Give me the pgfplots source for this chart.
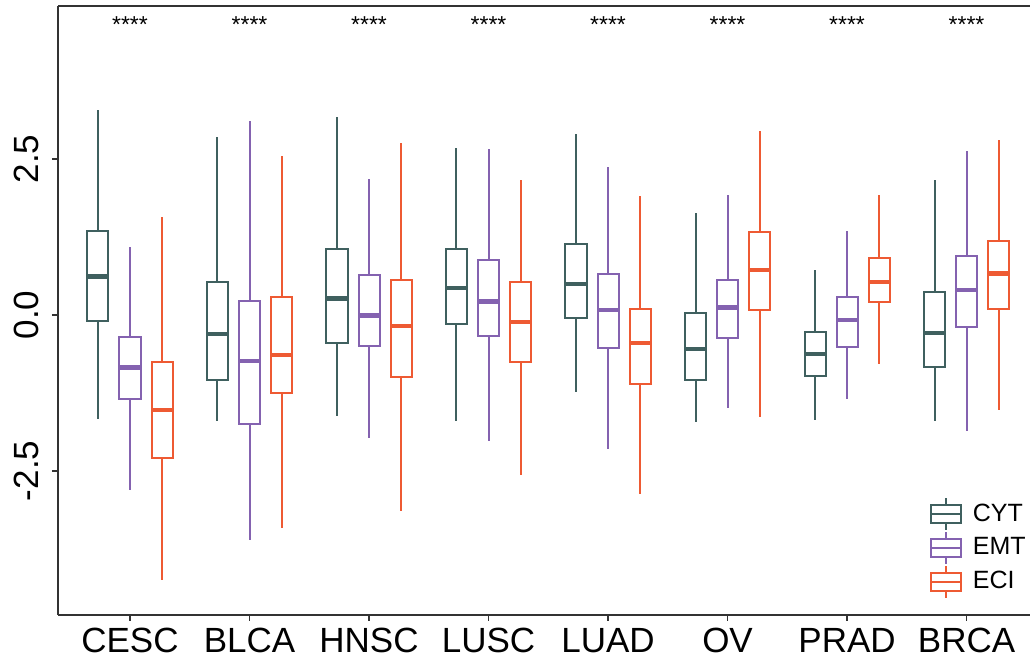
\documentclass[border=0pt]{standalone}
\usepackage{fontspec}
\setmainfont{Liberation Sans}
\usepackage{pgfplots}
\pgfplotsset{compat=1.18}
\usepgfplotslibrary{statistics}
\definecolor{cytc}{HTML}{3F605F}
\definecolor{emtc}{HTML}{8462B0}
\definecolor{ecic}{HTML}{EE5A33}
\definecolor{axc}{HTML}{333333}
\pgfplotsset{
  bx/.style={draw=#1, line width=1pt, forget plot,
    boxplot/draw direction=y,
    boxplot/box extend=0.176, boxplot/whisker extend=0,
    boxplot/every median/.style={line width=2.2pt}},
}
\newcommand{\lgimg}[1]{\addlegendimage{legend image code/.code={
  \draw[#1, line width=0.9pt] (0pt,-4.5pt) rectangle (15pt,4.5pt);
  \draw[#1, line width=0.9pt] (0pt,0pt) -- (15pt,0pt);
  \draw[#1, line width=0.9pt] (7.5pt,4.5pt) -- (7.5pt,8pt);
  \draw[#1, line width=0.9pt] (7.5pt,-4.5pt) -- (7.5pt,-8pt);
  \path[draw=none, fill=none] (0pt,0pt) rectangle (19pt,0pt);}}}
\begin{document}
\begin{tikzpicture}
\begin{axis}[name=ax, scale only axis, width=486pt, height=304.5pt,
  xmin=-0.6025, xmax=7.531, ymin=-4.81, ymax=4.95,
  axis x line*=bottom, axis y line*=left,
  axis line style={axc, line width=0.8pt},
  tick style={axc, line width=0.8pt}, tick align=outside,
  major tick length=3pt,
  xtick={0,1,2,3,4,5,6,7},
  xticklabels={CESC,BLCA,HNSC,LUSC,LUAD,OV,PRAD,BRCA},
  ytick={-2.5,0,2.5}, yticklabels={-2.5,0.0,2.5},
  tick label style={font=\fontsize{17.5}{18}\selectfont, text=black},
  yticklabel style={rotate=90, anchor=south, yshift=3pt},
  legend style={at={(rel axis cs:1,0)}, anchor=south east, draw=none, fill=none,
    font=\fontsize{12.5}{13}\selectfont, row sep=0pt, xshift=3pt, yshift=6pt},
  legend cell align=left,
]
% CESC
\addplot[bx=cytc, boxplot prepared={draw position=-0.268, lower whisker=-1.672, lower quartile=-0.091, median=0.614, upper quartile=1.346, upper whisker=3.285}] coordinates {};
\addplot[bx=emtc, boxplot prepared={draw position=0, lower whisker=-2.804, lower quartile=-1.351, median=-0.844, upper quartile=-0.353, upper whisker=1.095}] coordinates {};
\addplot[bx=ecic, boxplot prepared={draw position=0.268, lower whisker=-4.247, lower quartile=-2.292, median=-1.528, upper quartile=-0.748, upper whisker=1.576}] coordinates {};
% BLCA
\addplot[bx=cytc, boxplot prepared={draw position=0.732, lower whisker=-1.699, lower quartile=-1.042, median=-0.310, upper quartile=0.524, upper whisker=2.847}] coordinates {};
\addplot[bx=emtc, boxplot prepared={draw position=1, lower whisker=-3.606, lower quartile=-1.757, median=-0.737, upper quartile=0.230, upper whisker=3.114}] coordinates {};
\addplot[bx=ecic, boxplot prepared={draw position=1.268, lower whisker=-3.419, lower quartile=-1.245, median=-0.646, upper quartile=0.294, upper whisker=2.548}] coordinates {};
% HNSC
\addplot[bx=cytc, boxplot prepared={draw position=1.732, lower whisker=-1.619, lower quartile=-0.443, median=0.262, upper quartile=1.052, upper whisker=3.178}] coordinates {};
\addplot[bx=emtc, boxplot prepared={draw position=2, lower whisker=-1.966, lower quartile=-0.507, median=-0.010, upper quartile=0.631, upper whisker=2.185}] coordinates {};
\addplot[bx=ecic, boxplot prepared={draw position=2.268, lower whisker=-3.146, lower quartile=-0.988, median=-0.176, upper quartile=0.551, upper whisker=2.762}] coordinates {};
% LUSC
\addplot[bx=cytc, boxplot prepared={draw position=2.732, lower whisker=-1.699, lower quartile=-0.150, median=0.427, upper quartile=1.052, upper whisker=2.671}] coordinates {};
\addplot[bx=emtc, boxplot prepared={draw position=3, lower whisker=-2.014, lower quartile=-0.331, median=0.214, upper quartile=0.881, upper whisker=2.655}] coordinates {};
\addplot[bx=ecic, boxplot prepared={draw position=3.268, lower whisker=-2.559, lower quartile=-0.748, median=-0.118, upper quartile=0.524, upper whisker=2.163}] coordinates {};
% LUAD
\addplot[bx=cytc, boxplot prepared={draw position=3.732, lower whisker=-1.239, lower quartile=-0.054, median=0.491, upper quartile=1.138, upper whisker=2.895}] coordinates {};
\addplot[bx=emtc, boxplot prepared={draw position=4, lower whisker=-2.147, lower quartile=-0.539, median=0.080, upper quartile=0.651, upper whisker=2.377}] coordinates {};
\addplot[bx=ecic, boxplot prepared={draw position=4.268, lower whisker=-2.869, lower quartile=-1.111, median=-0.454, upper quartile=0.101, upper whisker=1.907}] coordinates {};
% OV
\addplot[bx=cytc, boxplot prepared={draw position=4.732, lower whisker=-1.720, lower quartile=-1.042, median=-0.550, upper quartile=0.032, upper whisker=1.629}] coordinates {};
\addplot[bx=emtc, boxplot prepared={draw position=5, lower whisker=-1.485, lower quartile=-0.374, median=0.117, upper quartile=0.561, upper whisker=1.923}] coordinates {};
\addplot[bx=ecic, boxplot prepared={draw position=5.268, lower whisker=-1.640, lower quartile=0.085, median=0.721, upper quartile=1.330, upper whisker=2.954}] coordinates {};
% PRAD
\addplot[bx=cytc, boxplot prepared={draw position=5.732, lower whisker=-1.683, lower quartile=-0.972, median=-0.630, upper quartile=-0.267, upper whisker=0.716}] coordinates {};
\addplot[bx=emtc, boxplot prepared={draw position=6, lower whisker=-1.346, lower quartile=-0.518, median=-0.080, upper quartile=0.283, upper whisker=1.346}] coordinates {};
\addplot[bx=ecic, boxplot prepared={draw position=6.268, lower whisker=-0.785, lower quartile=0.203, median=0.524, upper quartile=0.908, upper whisker=1.923}] coordinates {};
% BRCA
\addplot[bx=cytc, boxplot prepared={draw position=6.732, lower whisker=-1.694, lower quartile=-0.828, median=-0.294, upper quartile=0.374, upper whisker=2.163}] coordinates {};
\addplot[bx=emtc, boxplot prepared={draw position=7, lower whisker=-1.859, lower quartile=-0.192, median=0.395, upper quartile=0.946, upper whisker=2.628}] coordinates {};
\addplot[bx=ecic, boxplot prepared={draw position=7.268, lower whisker=-1.522, lower quartile=0.096, median=0.662, upper quartile=1.191, upper whisker=2.804}] coordinates {};
% legend
\lgimg{cytc}\addlegendentry{CYT}
\lgimg{emtc}\addlegendentry{EMT}
\lgimg{ecic}\addlegendentry{ECI}
% significance stars
\foreach \i in {0,...,7}{
  \edef\tmp{\noexpand\node[anchor=north, inner sep=0pt, font=\noexpand\fontsize{11.5}{12}\noexpand\selectfont] at (axis cs:\i,4.78) {****};}
  \tmp
}
\end{axis}
\draw[axc, line width=0.8pt] (ax.north west) -- (ax.north east);
\pgfresetboundingbox
\path ([xshift=-29pt,yshift=-26.5pt]ax.south west) rectangle ([yshift=3pt]ax.north east);
\end{tikzpicture}
\end{document}
